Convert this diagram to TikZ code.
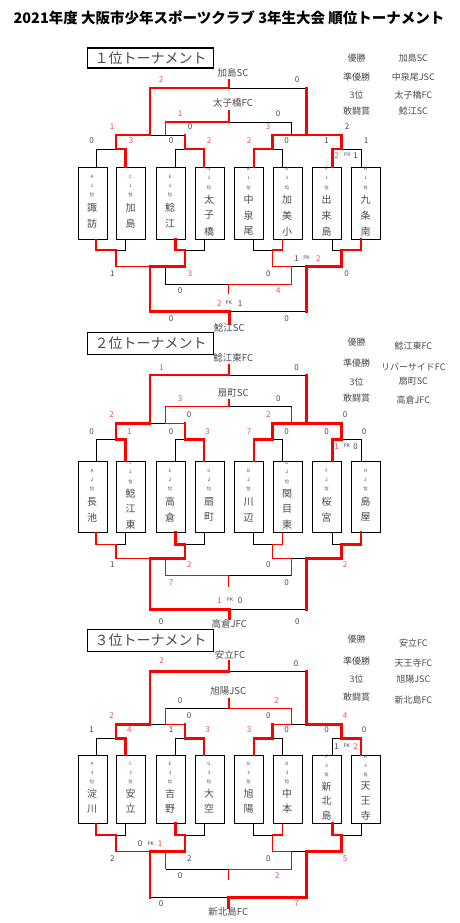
\documentclass[tikz,border=0pt]{standalone}
\usepackage{fontspec}
\setmainfont{Noto Sans CJK JP}
\definecolor{lnred}{RGB}{255,0,0}
\definecolor{txred}{RGB}{245,75,90}
\definecolor{txk}{RGB}{70,70,90}
\definecolor{txg}{RGB}{75,75,75}
\tikzset{
  thickR/.style={draw=lnred,line width=2.8pt,line cap=rect,line join=miter},
  thinR/.style={draw=lnred,line width=1.2pt},
  blk/.style={draw=black,line width=0.9pt},
  sck/.style={text=txk,font=\fontsize{8}{8}\selectfont,inner sep=0pt},
  scr/.style={text=txred,font=\fontsize{8}{8}\selectfont,inner sep=0pt},
  pkst/.style={text=txk,font=\fontsize{5}{5}\selectfont,inner sep=0pt},
  lab/.style={text=txg,font=\fontsize{9.5}{9.5}\selectfont,inner sep=0pt},
  lst/.style={text=txg,font=\fontsize{9}{9}\selectfont,inner sep=0pt},
  sm/.style={text=txg,font=\fontsize{4.5}{4.5}\selectfont,inner sep=0pt},
  nm/.style={text=txg,font=\fontsize{10}{10}\selectfont,inner sep=0pt},
  tbx/.style={draw=black,line width=0.9pt,minimum width=29pt,anchor=north west,inner sep=0pt},
  head/.style={draw=black,line width=1.3pt,minimum width=125.5pt,inner sep=0pt,font=\fontsize{14}{14}\selectfont,text=txg},
}
\newcommand\Sk[4]{\node[sck] (#1) at (#2,#3) {#4};}
\newcommand\Sr[4]{\node[scr] (#1) at (#2,#3) {#4};}
\newcommand\Pk[3]{\node[pkst] (#1) at (#2,#3) {PK};}
\newcommand\tboxii[8]{%
  \pgfmathsetmacro\hh{#4-#3}%
  \node[tbx,minimum height=\hh pt] (#1) at (#2,#3) {};
  \node[sm] (#1l) at ({#2+14.5},{#3+0.135*\hh}) {#5};
  \node[sm] (#1d) at ({#2+14.5},{#3+0.26*\hh}) {#6};
  \node[sm] (#1p) at ({#2+14.5},{#3+0.39*\hh}) {位};
  \node[nm] (#1a) at ({#2+14.5},{#3+0.57*\hh}) {#7};
  \node[nm] (#1b) at ({#2+14.5},{#3+0.79*\hh}) {#8};
}
\newcommand\tboxiii[9]{%
  \pgfmathsetmacro\hh{#4-#3}%
  \node[tbx,minimum height=\hh pt] (#1) at (#2,#3) {};
  \node[sm] (#1l) at ({#2+14.5},{#3+0.025*\hh}) {#5};
  \node[sm] (#1d) at ({#2+14.5},{#3+0.155*\hh}) {#6};
  \node[sm] (#1p) at ({#2+14.5},{#3+0.285*\hh}) {位};
  \node[nm] (#1a) at ({#2+14.5},{#3+0.46*\hh}) {#7};
  \node[nm] (#1b) at ({#2+14.5},{#3+0.675*\hh}) {#8};
  \node[nm] (#1c) at ({#2+14.5},{#3+0.895*\hh}) {#9};
}
\begin{document}
\begin{tikzpicture}[x=1pt,y=-1pt]
\useasboundingbox[fill=white] (0,0) rectangle (459,923);
\node[font=\fontsize{14.5}{14.5}\selectfont\bfseries,inner sep=0pt] (title) at (229,18) {2021年度 大阪市少年スポーツクラブ 3年生大会 順位トーナメント};

%%%%%%%%%%%%%%%% SECTION 1
\node[head,minimum height=20pt] (h1) at (150.5,58) {１位トーナメント};
\node[lst] (w1a) at (356.7,58) {優勝};   \node[lst] (w1b) at (413.3,58) {加島SC};
\node[lst] (w1c) at (356.7,77) {準優勝}; \node[lst] (w1d) at (413.3,77) {中泉尾JSC};
\node[lst] (w1e) at (356.7,95) {3位};    \node[lst] (w1f) at (413.3,95) {太子橋FC};
\node[lst] (w1g) at (356.7,111) {敢闘賞}; \node[lst] (w1h) at (413.3,111) {鯰江SC};

\tboxii{b1A}{77.5}{166.7}{239}{A}{1}{諏}{訪}
\tboxii{b1C}{116}{166.7}{239}{C}{1}{加}{島}
\tboxii{b1E}{155.5}{166.7}{239}{E}{1}{鯰}{江}
\tboxiii{b1G}{194.5}{166.7}{239}{G}{1}{太}{子}{橋}
\tboxiii{b1B}{234}{166.7}{239}{B}{1}{中}{泉}{尾}
\tboxiii{b1D}{272.5}{166.7}{239}{D}{1}{加}{美}{小}
\tboxiii{b1F}{312}{166.7}{239}{F}{1}{出}{来}{島}
\tboxiii{b1H}{351}{166.7}{239}{H}{1}{九}{条}{南}

% black
\draw[blk] (229,88) -- (306.5,88);
\draw[blk] (229,122) -- (291.5,122) -- (291.5,135);
\draw[blk] (150,135) -- (185,135);
\draw[blk] (96,166.7) -- (96,149) -- (116,149);
\draw[blk] (175.3,166.7) -- (175.3,149) -- (185,149);
\draw[blk] (282.3,166.7) -- (282.3,149) -- (272.5,149);
\draw[blk] (361,166.7) -- (361,149) -- (341.5,149);
\draw[blk] (125.7,239) -- (125.7,250) -- (116,250);
\draw[blk] (204,239) -- (204,250) -- (185,250);
\draw[blk] (253.3,239) -- (253.3,250) -- (272.5,250);
\draw[blk] (332.3,239) -- (332.3,250) -- (341.5,250);
\draw[blk] (291.5,266.7) -- (306.5,266.7);
\draw[blk] (165.5,266.7) -- (165.5,284.3) -- (228.3,284.3);
\draw[blk] (229.3,311.7) -- (306.5,311.7);
% thin red
\draw[thinR] (229,110) -- (229,122) -- (165.5,122) -- (165.5,135);
\draw[thinR] (96,239) -- (96,250) -- (116,250) -- (116,266.7) -- (150,266.7);
\draw[thinR] (282.3,239) -- (282.3,250) -- (272.5,250) -- (272.5,266.7) -- (291.5,266.7) -- (291.5,284.3) -- (228.3,284.3) -- (228.3,294.3);
% thick red
\draw[thickR] (229,80) -- (229,88);
\draw[thickR] (150,135) -- (150,88) -- (229,88);
\draw[thickR] (306.5,88) -- (306.5,135);
\draw[thickR] (116,135) -- (150,135);
\draw[thickR] (272.5,135) -- (341.5,135);
\draw[thickR] (125.7,166.7) -- (125.7,149) -- (116,149) -- (116,135);
\draw[thickR] (204,166.7) -- (204,149) -- (185,149) -- (185,135);
\draw[thickR] (254,166.7) -- (254,149) -- (272.5,149) -- (272.5,135);
\draw[thickR] (332.3,166.7) -- (332.3,149) -- (341.5,149) -- (341.5,135);
\draw[thickR] (175.3,239) -- (175.3,250) -- (185,250) -- (185,266.7) -- (150,266.7) -- (150,311.7) -- (229.3,311.7) -- (229.3,323.3);
\draw[thickR] (361,239) -- (361,250) -- (341.5,250) -- (341.5,266.7) -- (306.5,266.7) -- (306.5,311.7);

\node[lab] (l1a) at (233,73) {加島SC};
\node[lab] (l1b) at (233,103) {太子橋FC};
\node[lab] (l1c) at (229.3,327.5) {鯰江SC};
\Sr{s101}{161}{80}{2} \Sk{s102}{297}{80}{0}
\Sr{s103}{180}{114}{1} \Sk{s104}{278}{114}{0}
\Sr{s105}{112}{127}{1} \Sk{s106}{190}{127}{0} \Sr{s107}{268}{127}{3} \Sk{s108}{347}{127}{2}
\Sk{s109}{91.7}{141}{0} \Sr{s110}{131}{141}{3} \Sk{s111}{171}{141}{0} \Sr{s112}{209}{141}{2}
\Sr{s113}{249}{141}{2} \Sk{s114}{286.7}{141}{0} \Sk{s115}{326.7}{141}{1} \Sk{s116}{366}{141}{1}
\Sr{s117}{336.7}{156}{2} \Pk{p11}{347.3}{155} \Sk{s118}{355.7}{156}{1}
\Sk{s119}{296.7}{259}{1} \Pk{p12}{306.5}{258} \Sr{s120}{318.3}{259}{2}
\Sk{s121}{112.3}{273.3}{1} \Sr{s122}{190}{273.3}{3} \Sk{s123}{268.3}{273.3}{0} \Sk{s124}{346.7}{273.3}{0}
\Sk{s125}{180}{291}{0} \Sr{s126}{278.3}{291}{4}
\Sr{s127}{219.3}{303.3}{2} \Pk{p13}{228.8}{302.5} \Sk{s128}{240}{303.3}{1}
\Sk{s129}{171}{319}{0} \Sk{s130}{286.7}{319}{0}

%%%%%%%%%%%%%%%% SECTION 2
\node[head,minimum height=22pt] (h2) at (150.5,343.3) {２位トーナメント};
\node[lst] (w2a) at (356.7,342.3) {優勝};   \node[lst] (w2b) at (413.3,346) {鯰江東FC};
\node[lst] (w2c) at (356.7,363.3) {準優勝}; \node[lst] (w2d) at (413.3,366.7) {リバーサイドFC};
\node[lst] (w2e) at (356.7,381.7) {3位};    \node[lst] (w2f) at (413.3,381.7) {扇町SC};
\node[lst] (w2g) at (356.7,397.7) {敢闘賞}; \node[lst] (w2h) at (413.3,400) {高倉JFC};

\tboxii{b2A}{77.5}{461}{532.3}{A}{2}{長}{池}
\tboxiii{b2C}{116}{461}{532.3}{C}{2}{鯰}{江}{東}
\tboxii{b2E}{155.5}{461}{532.3}{E}{2}{高}{倉}
\tboxii{b2G}{194.5}{461}{532.3}{G}{2}{扇}{町}
\tboxii{b2B}{234}{461}{532.3}{B}{2}{川}{辺}
\tboxiii{b2D}{272.5}{461}{532.3}{D}{2}{関}{目}{東}
\tboxii{b2F}{312}{461}{532.3}{F}{2}{桜}{宮}
\tboxii{b2H}{351}{461}{532.3}{H}{2}{島}{屋}

\draw[blk] (229,375) -- (306.5,375);
\draw[blk] (229,406.7) -- (291.5,406.7);
\draw[blk] (150,423.3) -- (165.5,423.3);
\draw[blk] (96,461) -- (96,439.3) -- (116,439.3);
\draw[blk] (175.3,461) -- (175.3,439.3) -- (185,439.3);
\draw[blk] (282.3,461) -- (282.3,439.3) -- (272.5,439.3);
\draw[blk] (361,461) -- (361,439.3) -- (341.5,439.3);
\draw[blk] (125.7,532.3) -- (125.7,544.3) -- (116,544.3);
\draw[blk] (204,532.3) -- (204,544.3) -- (185,544.3);
\draw[blk] (253.3,532.3) -- (253.3,544.3) -- (272.5,544.3);
\draw[blk] (332.3,532.3) -- (332.3,544.3) -- (341.5,544.3);
\draw[blk] (291.5,558.3) -- (306.5,558.3);
\draw[blk] (228.3,575.7) -- (291.5,575.7);
\draw[blk] (229.3,609.3) -- (306.5,609.3);
\draw[thinR] (229,399) -- (229,406.7) -- (165.5,406.7) -- (165.5,423.3) -- (185,423.3);
\draw[thinR] (291.5,406.7) -- (291.5,423.3);
\draw[thinR] (96,532.3) -- (96,544.3) -- (116,544.3) -- (116,558.3) -- (150,558.3);
\draw[thinR] (165.5,558.3) -- (165.5,575.7) -- (228.3,575.7) -- (228.3,586.7);
\draw[thinR] (282.3,532.3) -- (282.3,544.3) -- (272.5,544.3) -- (272.5,558.3) -- (291.5,558.3) -- (291.5,575.7);
\draw[thickR] (229,365) -- (229,375);
\draw[thickR] (150,423.3) -- (150,375) -- (229,375);
\draw[thickR] (306.5,375) -- (306.5,423.3);
\draw[thickR] (116,423.3) -- (150,423.3);
\draw[thickR] (272.5,423.3) -- (341.5,423.3);
\draw[thickR] (125.7,461) -- (125.7,439.3) -- (116,439.3) -- (116,423.3);
\draw[thickR] (204,461) -- (204,439.3) -- (185,439.3) -- (185,423.3);
\draw[thickR] (254,461) -- (254,439.3) -- (272.5,439.3) -- (272.5,423.3);
\draw[thickR] (332.3,461) -- (332.3,439.3) -- (341.5,439.3) -- (341.5,423.3);
\draw[thickR] (175.3,532.3) -- (175.3,544.3) -- (185,544.3) -- (185,558.3) -- (150,558.3) -- (150,609.3) -- (229.3,609.3) -- (229.3,618.3);
\draw[thickR] (361,532.3) -- (361,544.3) -- (341.5,544.3) -- (341.5,558.3) -- (306.5,558.3) -- (306.5,609.3);

\node[lab] (l2a) at (233.3,358.3) {鯰江東FC};
\node[lab] (l2b) at (233.3,393.3) {扇町SC};
\node[lab] (l2c) at (229.3,623.5) {高倉JFC};
\Sr{s201}{161.7}{367.7}{1} \Sk{s202}{296.7}{367.7}{0}
\Sr{s203}{180}{399}{3} \Sk{s204}{278.3}{399}{0}
\Sr{s205}{111.7}{415}{2} \Sk{s206}{189}{415}{0} \Sr{s207}{268.3}{415}{2} \Sk{s208}{345}{415}{0}
\Sk{s209}{91.7}{431.7}{0} \Sr{s210}{129.3}{431.7}{1} \Sk{s211}{171}{431.7}{0} \Sr{s212}{207.7}{431.7}{3}
\Sr{s213}{249}{431.7}{7} \Sk{s214}{286.7}{431.7}{0} \Sk{s215}{326.7}{431.7}{0} \Sk{s216}{364}{431.7}{0}
\Sr{s217}{336.7}{446.7}{1} \Pk{p21}{346.7}{445.7} \Sk{s218}{355.7}{446.7}{0}
\Sk{s219}{112.3}{565}{1} \Sr{s220}{189.3}{565}{2} \Sk{s221}{268.3}{565}{0} \Sr{s222}{345}{565}{2}
\Sr{s223}{171}{582.3}{7} \Sk{s224}{286.7}{582.3}{0}
\Sr{s225}{219.3}{600.7}{1} \Pk{p22}{230}{600} \Sk{s226}{240}{600.7}{0}
\Sk{s227}{161}{621.7}{0} \Sk{s228}{297.3}{621.7}{0}

%%%%%%%%%%%%%%%% SECTION 3
\node[head,minimum height=22.4pt] (h3) at (150.5,640.5) {３位トーナメント};
\node[lst] (w3a) at (356.7,639.3) {優勝};   \node[lst] (w3b) at (413.3,643.3) {安立FC};
\node[lst] (w3c) at (356.7,660.7) {準優勝}; \node[lst] (w3d) at (413.3,663.3) {天王寺FC};
\node[lst] (w3e) at (356.7,679.3) {3位};    \node[lst] (w3f) at (413.3,679.3) {旭陽JSC};
\node[lst] (w3g) at (356.7,696.7) {敢闘賞}; \node[lst] (w3h) at (413.3,700) {新北島FC};

\tboxii{b3A}{77.5}{755}{823.3}{A}{3}{淀}{川}
\tboxii{b3C}{116}{755}{823.3}{C}{3}{安}{立}
\tboxii{b3E}{155.5}{755}{823.3}{E}{3}{吉}{野}
\tboxii{b3G}{194.5}{755}{823.3}{G}{3}{大}{空}
\tboxii{b3B}{234}{755}{823.3}{B}{3}{旭}{陽}
\tboxii{b3D}{272.5}{755}{823.3}{D}{3}{中}{本}
\tboxiii{b3F}{312}{755}{823.3}{F}{3}{新}{北}{島}
\tboxiii{b3H}{351}{755}{823.3}{H}{3}{天}{王}{寺}

\draw[blk] (229,671.7) -- (306.5,671.7);
\draw[blk] (165.5,708.3) -- (229,708.3);
\draw[blk] (150,724.3) -- (165.5,724.3);
\draw[blk] (291.5,724.3) -- (306.5,724.3);
\draw[blk] (96,755) -- (96,738.3) -- (116,738.3);
\draw[blk] (175.3,755) -- (175.3,738.3) -- (185,738.3);
\draw[blk] (282.3,755) -- (282.3,738.3) -- (272.5,738.3);
\draw[blk] (332.3,755) -- (332.3,738.3) -- (341.5,738.3);
\draw[blk] (125.7,823.3) -- (125.7,835) -- (116,835);
\draw[blk] (204,823.3) -- (204,835) -- (185,835);
\draw[blk] (253.3,823.3) -- (253.3,835) -- (272.5,835);
\draw[blk] (361,823.3) -- (361,835) -- (341.5,835);
\draw[blk] (291.5,851.7) -- (306.5,851.7);
\draw[blk] (165.5,869.3) -- (228.3,869.3);
\draw[blk] (150,897.3) -- (228.3,897.3);
\draw[thinR] (229,698.3) -- (229,708.3) -- (291.5,708.3) -- (291.5,724.3) -- (272.5,724.3);
\draw[thinR] (165.5,708.3) -- (165.5,724.3) -- (185,724.3);
\draw[thinR] (96,823.3) -- (96,835) -- (116,835) -- (116,851.7) -- (150,851.7);
\draw[thinR] (165.5,851.7) -- (165.5,869.3);
\draw[thinR] (282.3,823.3) -- (282.3,835) -- (272.5,835) -- (272.5,851.7) -- (291.5,851.7) -- (291.5,869.3) -- (228.3,869.3) -- (228.3,880);
\draw[thickR] (229,661.7) -- (229,671.7);
\draw[thickR] (150,724.3) -- (150,671.7) -- (229,671.7);
\draw[thickR] (306.5,671.7) -- (306.5,724.3);
\draw[thickR] (116,724.3) -- (150,724.3);
\draw[thickR] (306.5,724.3) -- (341.5,724.3);
\draw[thickR] (125.7,755) -- (125.7,738.3) -- (116,738.3) -- (116,724.3);
\draw[thickR] (204,755) -- (204,738.3) -- (185,738.3) -- (185,724.3);
\draw[thickR] (254,755) -- (254,738.3) -- (272.5,738.3) -- (272.5,724.3);
\draw[thickR] (361,755) -- (361,738.3) -- (341.5,738.3) -- (341.5,724.3);
\draw[thickR] (175.3,823.3) -- (175.3,835) -- (185,835) -- (185,851.7) -- (150,851.7) -- (150,897.3);
\draw[thickR] (332.3,823.3) -- (332.3,835) -- (341.5,835) -- (341.5,851.7) -- (306.5,851.7) -- (306.5,897.3) -- (228.3,897.3) -- (228.3,907.3);

\node[lab] (l3a) at (230,655) {安立FC};
\node[lab] (l3b) at (228.3,691) {旭陽JSC};
\node[lab] (l3c) at (228.3,912) {新北島FC};
\Sr{s301}{161.7}{660.7}{2} \Sk{s302}{296}{664}{0}
\Sk{s303}{180}{700.7}{0} \Sr{s304}{276.7}{700.7}{2}
\Sr{s305}{111.7}{716}{2} \Sk{s306}{189}{716}{0} \Sk{s307}{268.3}{716}{0} \Sr{s308}{345}{716}{4}
\Sk{s309}{91.7}{730}{1} \Sr{s310}{129.3}{730}{4} \Sk{s311}{171}{730}{1} \Sr{s312}{207.7}{730}{3}
\Sr{s313}{249}{730}{3} \Sk{s314}{286.7}{730}{0} \Sk{s315}{326.7}{730}{0} \Sk{s316}{364}{730}{0}
\Sk{s317}{336.7}{746.7}{1} \Pk{p31}{346.7}{745.7} \Sr{s318}{355.7}{746.7}{2}
\Sk{s319}{140}{844}{0} \Pk{p32}{150.7}{843.5} \Sr{s320}{160}{844}{1}
\Sk{s321}{112.3}{858.3}{2} \Sk{s322}{189.3}{858.3}{2} \Sk{s323}{268.3}{858.3}{0} \Sr{s324}{345}{858.3}{5}
\Sk{s325}{180}{875.7}{0} \Sr{s326}{277.3}{875.7}{2}
\Sk{s327}{161}{903.3}{0} \Sr{s328}{296.7}{903.3}{7}
\end{tikzpicture}
\end{document}
